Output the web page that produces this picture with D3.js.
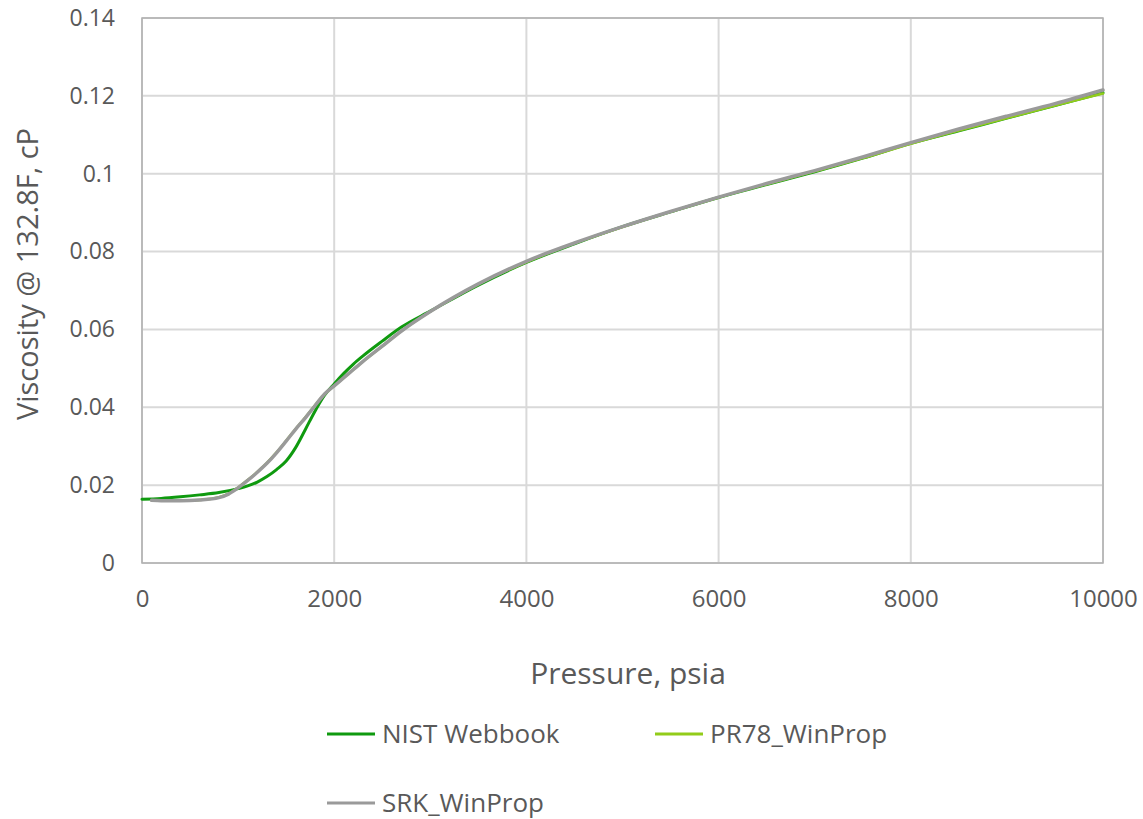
<!DOCTYPE html>
<html><head><meta charset="utf-8">
<script src="https://cdn.jsdelivr.net/npm/d3@7"></script>
<style>body{margin:0;background:#fff}svg{display:block}text{font-family:"Open Sans",sans-serif;fill:#595959}</style>
</head><body>
<svg id="c" width="1143" height="819"></svg>
<script>
const xTicks = [0, 2000, 4000, 6000, 8000, 10000];
const yTicks = [0, 0.02, 0.04, 0.06, 0.08, 0.1, 0.12, 0.14];
const yTickLabels = ["0", "0.02", "0.04", "0.06", "0.08", "0.1", "0.12", "0.14"];

const nistP = [0,200,400,600,800,1000,1100,1200,1300,1400,1500,1600,1700,1800,1900,2000,2100,2200,2300,2500,2700,3000,3500,4000,4500,5000,5500,6000,6500,7000,7500,8000,8500,9000,9500,10000];
const nistV = [0.0164,0.0166,0.0170,0.0175,0.0181,0.0191,0.0198,0.0208,0.0222,0.0240,0.0262,0.0297,0.0343,0.0390,0.0431,0.0460,0.0487,0.0511,0.0532,0.0570,0.0606,0.0647,0.0714,0.0772,0.0820,0.0864,0.0902,0.0939,0.0972,0.1005,0.1040,0.1078,0.1110,0.1143,0.1175,0.1208];

const prP = [100,200,400,600,800,900,1000,1100,1200,1300,1400,1500,1600,1700,1800,1900,2000,2100,2200,2300,2500,2700,3000,3500,4000,4500,5000,5500,6000,6500,7000,7500,8000,8500,9000,9500,10000];
const prV = [0.0161,0.0160,0.0160,0.0162,0.0169,0.0178,0.0194,0.0213,0.0234,0.0257,0.0284,0.0314,0.0345,0.0374,0.0405,0.0434,0.0455,0.0476,0.0497,0.0518,0.0557,0.0596,0.0646,0.0716,0.0773,0.0821,0.0863,0.0902,0.0939,0.0973,0.1006,0.1040,0.1077,0.1111,0.1143,0.1175,0.1206];

const srkP = [100,200,400,600,800,900,1000,1100,1200,1300,1400,1500,1600,1700,1800,1900,2000,2100,2200,2300,2500,2700,3000,3500,4000,4500,5000,5500,6000,6500,7000,7500,8000,8500,9000,9500,10000];
const srkV = [0.0161,0.0160,0.0160,0.0162,0.0168,0.0177,0.0193,0.0212,0.0233,0.0256,0.0283,0.0313,0.0344,0.0373,0.0404,0.0434,0.0455,0.0476,0.0497,0.0518,0.0557,0.0596,0.0646,0.0717,0.0775,0.0822,0.0864,0.0903,0.0940,0.0975,0.1008,0.1043,0.1080,0.1115,0.1148,0.1180,0.1215];

const seriesNames = ["NIST Webbook", "PR78_WinProp", "SRK_WinProp"];
const seriesColors = ["#0f9a0f", "#92cc1a", "#9a9a9a"];

const svg = d3.select("#c");
const L = 142, R = 1103, T = 18, B = 563;
const x = d3.scaleLinear().domain([0, 10000]).range([L, R]);
const y = d3.scaleLinear().domain([0, 0.14]).range([B, T]);

// gridlines
const g = svg.append("g");
g.selectAll(".gy").data(yTicks).join("line")
  .attr("x1", L).attr("x2", R).attr("y1", d => y(d)).attr("y2", d => y(d))
  .attr("stroke", "#d9d9d9").attr("stroke-width", 2);
g.selectAll(".gx").data(xTicks).join("line")
  .attr("y1", T).attr("y2", B).attr("x1", d => x(d)).attr("x2", d => x(d))
  .attr("stroke", "#d9d9d9").attr("stroke-width", 2);
svg.append("rect").attr("x", L).attr("y", T).attr("width", R - L).attr("height", B - T)
  .attr("fill", "none").attr("stroke", "#b0b0b0").attr("stroke-width", 1.5);

// axes
const yAxis = d3.axisLeft(y).tickValues(yTicks).tickFormat((d, i) => yTickLabels[i]).tickSize(0).tickPadding(27);
const ya = svg.append("g").attr("transform", `translate(${L},0)`).call(yAxis);
ya.select(".domain").remove();
ya.selectAll("text").style("font-size", "23px").attr("fill", "#595959");
const xAxis = d3.axisBottom(x).tickValues(xTicks).tickFormat(d => String(d)).tickSize(0).tickPadding(27);
const xa = svg.append("g").attr("transform", `translate(0,${B})`).call(xAxis);
xa.select(".domain").remove();
xa.selectAll("text").style("font-size", "24px").attr("fill", "#595959");

// lines
const line = d3.line().x(d => x(d[0])).y(d => y(d[1])).curve(d3.curveMonotoneX);
const data = [
  d3.zip(nistP, nistV),
  d3.zip(prP, prV),
  d3.zip(srkP, srkV)
];
const widths = [3, 2.5, 3.5];
data.forEach((d, i) => {
  svg.append("path").datum(d).attr("d", line).attr("fill", "none")
    .attr("stroke", seriesColors[i]).attr("stroke-width", widths[i])
    .attr("stroke-linejoin", "round").attr("stroke-linecap", "round");
});

// titles
svg.append("text").attr("x", 628).attr("y", 673).attr("dy", "0.35em").attr("text-anchor", "middle")
  .style("font-size", "30px").text("Pressure, psia");
svg.append("text").attr("transform", "translate(28,274) rotate(-90)").attr("dy", "0.35em").attr("text-anchor", "middle")
  .style("font-size", "29px").text("Viscosity @ 132.8F, cP");

// legend
const legPos = [[327, 734], [655, 734], [327, 803]];
seriesNames.forEach((n, i) => {
  const [lx, ly] = legPos[i];
  svg.append("line").attr("x1", lx).attr("x2", lx + 48).attr("y1", ly).attr("y2", ly)
    .attr("stroke", seriesColors[i]).attr("stroke-width", 3);
  svg.append("text").attr("x", lx + 55).attr("y", ly).attr("dy", "0.35em").style("font-size", "26px").text(n);
});
</script>
</body></html>
